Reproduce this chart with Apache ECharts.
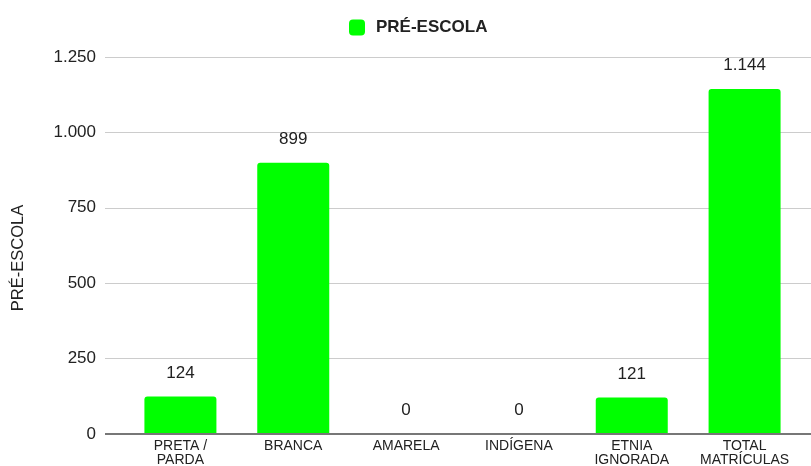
<!DOCTYPE html>
<html><head><meta charset="utf-8">
<script src="https://cdn.jsdelivr.net/npm/echarts@6/dist/echarts.min.js"></script>
<style>html,body{margin:0;padding:0;background:#fff}#c{width:811px;height:466px}</style>
</head><body><div id="c"></div>
<script>
const categories = ['PRETA /\nPARDA', 'BRANCA', 'AMARELA', 'INDÍGENA', 'ETNIA\nIGNORADA', 'TOTAL\nMATRÍCULAS'];
const values = [124, 899, 0, 0, 121, 1144];
const yTicks = [0, 250, 500, 750, 1000, 1250];
const seriesName = 'PRÉ-ESCOLA';
const fmt = v => String(v).replace(/\B(?=(\d{3})+(?!\d))/g, '.');
const chart = echarts.init(document.getElementById('c'));
const font = 'Liberation Sans, Arial, sans-serif';
chart.setOption({
  animation: false,
  textStyle: {fontFamily: font},
  legend: {top: 14, left: 344, itemWidth: 16, itemHeight: 16, itemGap: 10,
    textStyle: {fontSize: 17, fontWeight: 'bold', color: '#222', fontFamily: font, padding: [0, 0, 0, 6]},
    data: [seriesName]},
  graphic: [{type: 'text', x: 10, y: 258, rotation: Math.PI / 2,
    style: {text: seriesName, fontSize: 16.5, fill: '#222', fontFamily: font, textAlign: 'center', textVerticalAlign: 'top'}}],
  grid: [
    {left: 105, right: 0, top: 57, bottom: 32, outerBoundsMode: 'none', containLabel: false},
    {left: 124, right: 10, top: 57, bottom: 32, outerBoundsMode: 'none', containLabel: false}
  ],
  xAxis: [
    {gridIndex: 0, type: 'category', data: categories, show: false},
    {gridIndex: 1, type: 'category', data: categories,
      axisLine: {show: false}, axisTick: {show: false},
      axisLabel: {interval: 0, fontSize: 14, color: '#222', lineHeight: 14, margin: 5, fontFamily: font}}
  ],
  yAxis: [
    {gridIndex: 0, type: 'value', min: 0, max: 1250, interval: 250,
      axisLine: {show: false}, axisTick: {show: false},
      axisLabel: {fontSize: 17, color: '#222', margin: 9, fontFamily: font, formatter: v => yTicks.includes(v) ? fmt(v) : ''},
      splitLine: {lineStyle: {color: '#cccccc', width: 1}}},
    {gridIndex: 1, type: 'value', min: 0, max: 1250, interval: 250, show: false, splitLine: {show: false}}
  ],
  series: [
    {type: 'line', xAxisIndex: 0, yAxisIndex: 0, data: [], silent: true,
      markLine: {symbol: 'none', silent: true, label: {show: false},
        lineStyle: {color: '#777', width: 2, type: 'solid'}, data: [{yAxis: 0}]}},
    {name: seriesName, type: 'bar', xAxisIndex: 1, yAxisIndex: 1, data: values, barWidth: 72,
      itemStyle: {color: '#00ff00', borderRadius: [3, 3, 0, 0]},
      label: {show: true, position: 'top', distance: 15, fontSize: 17, color: '#222', fontFamily: font, formatter: p => fmt(p.value)}}
  ]
});
</script></body></html>
